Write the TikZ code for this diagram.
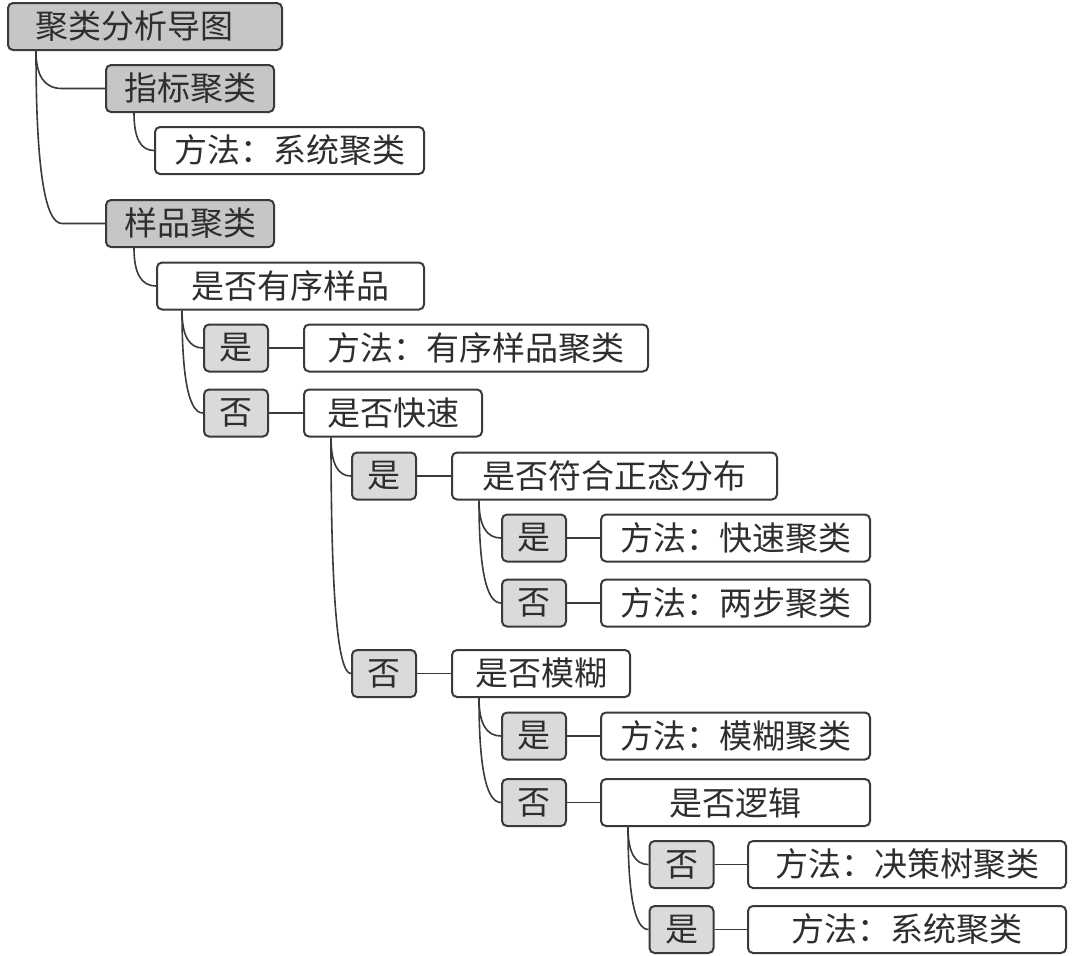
\documentclass[tikz,border=0pt]{standalone}
\usepackage{fontspec}
\setmainfont{Noto Sans CJK SC}
\usetikzlibrary{calc}

\definecolor{boxline}{HTML}{3A3A3A}
\definecolor{darkfill}{HTML}{C6C6C6}
\definecolor{lightfill}{HTML}{DADADA}
\definecolor{txt}{HTML}{2E2E2E}

\tikzset{
  mapnode/.style={draw=boxline, line width=1pt, rounded corners=2.5pt, inner sep=0pt,
    minimum height=23.5pt, text=txt, font=\fontsize{16.5}{18}\selectfont},
  rootbox/.style={mapnode, fill=darkfill, text width=110pt, inner xsep=13.5pt, align=left},
  catbox/.style={mapnode, fill=darkfill, minimum width=84pt},
  ynbox/.style={mapnode, fill=lightfill, minimum width=32pt},
  qbox/.style={mapnode, fill=white, minimum width=#1},
  link/.style={draw=boxline, line width=0.8pt}
}

% trunk from a parent point #1, bending into point #2
\newcommand\bend[2]{\draw[link] (#1) .. controls ($(#1)!0.67!(#1 |- #2)$) and ($(#2)!0.67!(#1 |- #2)$) .. (#2)}
\newcommand\branch[2]{\bend{#1}{#2.west};}

\begin{document}
\begin{tikzpicture}[x=0.5pt,y=0.5pt]
\useasboundingbox (0,0) rectangle (1080,-955);

\node[rootbox] (root) at (145,-26.5) {聚类分析导图};
\node[catbox] (zb) at (190,-88.5) {指标聚类};
\node[qbox=134.5pt] (zbm) at (289.5,-150.5) {方法：系统聚类};
\node[catbox] (yp) at (190,-223.5) {样品聚类};
\node[qbox=133.5pt] (yx) at (290.5,-286) {是否有序样品};

\node[ynbox] (yx1) at (236,-348) {是};
\node[qbox=172pt] (yx1m) at (476,-348) {方法：有序样品聚类};
\node[ynbox] (yx0) at (236,-413) {否};
\node[qbox=89pt] (ks) at (393,-413) {是否快速};

\node[ynbox] (ks1) at (384,-476) {是};
\node[qbox=162.5pt] (zt) at (614.5,-476) {是否符合正态分布};
\node[ynbox] (zt1) at (534,-538) {是};
\node[qbox=134.5pt] (zt1m) at (735.5,-538) {方法：快速聚类};
\node[ynbox] (zt0) at (534,-603) {否};
\node[qbox=134.5pt] (zt0m) at (735.5,-603) {方法：两步聚类};

\node[ynbox] (ks0) at (384,-673.5) {否};
\node[qbox=89pt] (mh) at (541,-673.5) {是否模糊};
\node[ynbox] (mh1) at (534,-736) {是};
\node[qbox=134.5pt] (mh1m) at (735.5,-736) {方法：模糊聚类};
\node[ynbox] (mh0) at (534,-802.5) {否};
\node[qbox=134.5pt] (lj) at (735.5,-802.5) {是否逻辑};

\node[ynbox] (lj0) at (681.5,-864.5) {否};
\node[qbox=159pt] (lj0m) at (907,-864.5) {方法：决策树聚类};
\node[ynbox] (lj1) at (681.5,-929.5) {是};
\node[qbox=159pt] (lj1m) at (907,-929.5) {方法：系统聚类};

% trunk start points
\coordinate (t0) at ($(root.south west)+(29,0)$);
\coordinate (t1) at ($(zb.south west)+(29,0)$);
\coordinate (t2) at ($(yp.south west)+(29,0)$);
\coordinate (t3) at ($(yx.south west)+(26,0)$);
\coordinate (t4) at ($(ks.south west)+(28,0)$);
\coordinate (t5) at ($(zt.south west)+(28,0)$);
\coordinate (t6) at ($(mh.south west)+(28,0)$);
\coordinate (t7) at ($(lj.south west)+(28,0)$);
\coordinate (zbend) at ($(t0 |- zb.west)+(26,0)$);
\coordinate (ypend) at ($(t0 |- yp.west)+(26,0)$);

\bend{t0}{zbend} -- (zb.west);
\bend{t0}{ypend} -- (yp.west);
\branch{t1}{zbm}
\branch{t2}{yx}
\branch{t3}{yx1}
\branch{t3}{yx0}
\branch{t4}{ks1}
\branch{t4}{ks0}
\branch{t5}{zt1}
\branch{t5}{zt0}
\branch{t6}{mh1}
\branch{t6}{mh0}
\branch{t7}{lj0}
\branch{t7}{lj1}

\draw[link] (yx1) -- (yx1m);
\draw[link] (yx0) -- (ks);
\draw[link] (ks1) -- (zt);
\draw[link] (zt1) -- (zt1m);
\draw[link] (zt0) -- (zt0m);
\draw[link] (ks0) -- (mh);
\draw[link] (mh1) -- (mh1m);
\draw[link] (mh0) -- (lj);
\draw[link] (lj0) -- (lj0m);
\draw[link] (lj1) -- (lj1m);
\end{tikzpicture}
\end{document}
